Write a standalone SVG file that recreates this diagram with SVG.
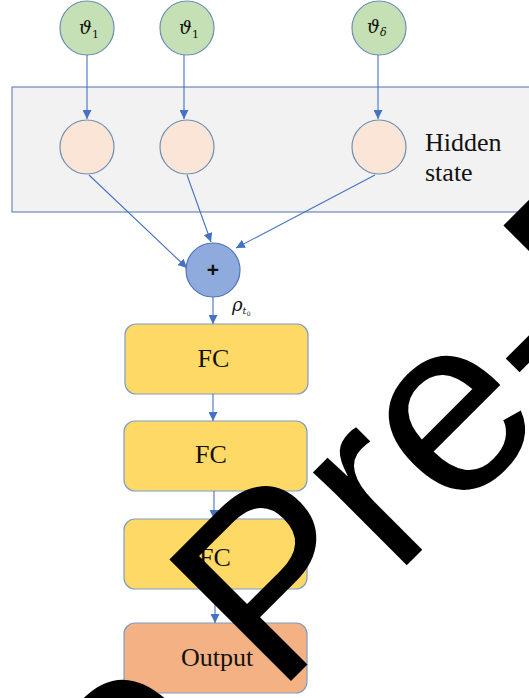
<svg xmlns="http://www.w3.org/2000/svg" width="529" height="698" viewBox="0 0 529 698">
<style>
.in{fill:#c5e0b4;stroke:#6d8fb5;stroke-width:1.2}
.hid{fill:#fbe5d6;stroke:#6d8fb5;stroke-width:1.2}
.sum{fill:#8faadc;stroke:#4f74b8;stroke-width:1.2}
.fc{fill:#ffd966;stroke:#7f9dc4;stroke-width:1.2}
.out{fill:#f4b183;stroke:#7f9dc4;stroke-width:1.2}
.lbl{font-family:"Liberation Serif","Times New Roman",serif;font-size:26px;fill:#111}
.math{font-family:"DejaVu Serif","Liberation Serif",serif;font-style:italic;fill:#111}
.con line{stroke:#4472c4;stroke-width:1.1;fill:none}
.wm{font-family:"Liberation Sans",Arial,sans-serif;font-size:250px;fill:#000}
</style>
<defs>
<marker id="ah" markerUnits="userSpaceOnUse" markerWidth="9" markerHeight="9" refX="9" refY="4.5" orient="auto">
<path d="M0,0 L9,4.5 L0,9 z" fill="#4472c4"/>
</marker>
</defs>
<g id="hidden-state">
<rect x="12" y="87" width="540" height="125" fill="#f2f2f2" stroke="#5b7fb8" stroke-width="1.1"/>
<text class="lbl" x="425" y="151">Hidden</text>
<text class="lbl" x="425" y="181">state</text>
</g>
<g id="in1"><circle class="in" cx="87" cy="28" r="27"/><text class="math" x="79" y="34" font-size="18">ϑ<tspan font-size="11" font-style="normal" dy="4">1</tspan></text></g>
<g id="in2"><circle class="in" cx="187" cy="28" r="27"/><text class="math" x="179" y="34" font-size="18">ϑ<tspan font-size="11" font-style="normal" dy="4">1</tspan></text></g>
<g id="in3"><circle class="in" cx="379" cy="28" r="27"/><text class="math" x="367" y="33" font-size="18">ϑ<tspan font-size="11" dy="3">δ</tspan></text></g>
<g id="h1"><circle class="hid" cx="87" cy="147" r="27"/></g>
<g id="h2"><circle class="hid" cx="187" cy="147" r="27"/></g>
<g id="h3"><circle class="hid" cx="379" cy="147" r="27"/></g>
<g id="sum"><circle class="sum" cx="213" cy="270" r="27"/><text x="213" y="277" text-anchor="middle" font-family="Liberation Sans,Arial,sans-serif" font-weight="bold" font-size="21" fill="#111">+</text></g>
<g id="rho"><text class="math" x="232" y="311" font-size="18">ρ<tspan font-size="10" dy="3">t</tspan><tspan font-size="6" font-style="normal" dy="2">0</tspan></text></g>
<g id="fc1"><rect class="fc" x="125" y="324" width="183" height="70" rx="11"/><text class="lbl" x="213.5" y="367" text-anchor="middle">FC</text></g>
<g id="fc2"><rect class="fc" x="124" y="421" width="183" height="70" rx="11"/><text class="lbl" x="211" y="463" text-anchor="middle">FC</text></g>
<g id="fc3"><rect class="fc" x="124" y="519" width="183" height="70" rx="11"/><text class="lbl" x="215" y="566" text-anchor="middle">FC</text></g>
<g id="output"><rect class="out" x="124" y="623" width="183" height="70" rx="11"/><text class="lbl" x="217" y="666" text-anchor="middle">Output</text></g>
<g id="connectors" class="con">
<line x1="87" y1="55" x2="87" y2="119" marker-end="url(#ah)"/>
<line x1="184" y1="55" x2="184" y2="119" marker-end="url(#ah)"/>
<line x1="378" y1="55" x2="378" y2="119" marker-end="url(#ah)"/>
<line x1="89" y1="175" x2="187" y2="268" marker-end="url(#ah)"/>
<line x1="187" y1="175" x2="211" y2="242" marker-end="url(#ah)"/>
<line x1="375" y1="175" x2="236" y2="248" marker-end="url(#ah)"/>
<line x1="213" y1="297" x2="213" y2="324" marker-end="url(#ah)"/>
<line x1="213" y1="394" x2="213" y2="421" marker-end="url(#ah)"/>
<line x1="214" y1="491" x2="214" y2="519" marker-end="url(#ah)"/>
<line x1="215" y1="589" x2="215" y2="623" marker-end="url(#ah)"/>
</g>
<g id="watermark"><text class="wm" transform="translate(276.6,695.4) rotate(-45)" x="-208.5" y="0">e Pre-P</text></g>
</svg>
